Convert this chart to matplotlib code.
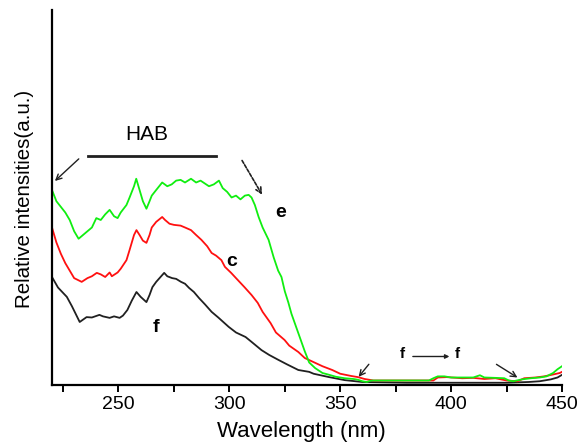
import matplotlib
matplotlib.use("Agg")
import matplotlib.pyplot as plt
from matplotlib.ticker import MultipleLocator

plt.rcParams['font.family'] = ['Liberation Sans', 'DejaVu Sans']

# curve e (green)
wl_e = [220, 222, 224, 226, 228, 230, 232, 234, 236, 238, 240, 242, 244, 246, 248, 249.6, 251, 253.6,
        255, 257, 258, 259.5, 261, 262.6, 264, 265, 267, 269.7, 272, 274, 276, 278, 280, 282.7, 285,
        287, 290.8, 293, 295.3, 297, 299, 301, 303, 305, 307, 308.7, 310, 311.5, 313.2, 315, 317.7,
        320, 322, 323.5, 325, 326.6, 328, 331, 334, 336, 338.7, 342, 344.5, 348, 352, 356, 358, 360,
        362, 364, 366, 370, 380, 390, 392, 394, 397, 400, 405, 410, 413, 415, 420, 424, 426, 428,
        432, 436, 440, 443, 446, 448, 450]
val_e = [52, 49, 47.5, 46, 44, 41, 39, 40, 41, 42, 44.5, 44, 45.5, 46.7, 45, 44.5, 46, 48,
         50, 53, 55, 52, 49, 47, 49, 50.5, 52, 54, 53, 53.5, 54.5, 54.7, 54, 55, 54,
         54.5, 53, 53.5, 54.5, 52.5, 51.5, 50, 50.5, 49.5, 50.5, 50.7, 50, 48, 44.8, 42, 38.7,
         34, 30.5, 28.8, 25, 22, 19, 14, 9, 6, 4.5, 3.2, 2.8, 2.2, 1.8, 1.6, 1.4, 1.0,
         0.8, 1.2, 1.2, 1.2, 1.2, 1.2, 1.8, 2.3, 2.3, 2.0, 2.0, 2.0, 2.6, 2.0, 1.9, 1.8, 1.2, 1.0,
         1.5, 1.8, 2.0, 2.3, 3.2, 4.2, 5.0]

# curve c (red)
wl_c = [220, 222, 224, 226, 228, 230, 233.4, 236, 238, 240.2, 242, 244, 246, 247, 249.6, 251, 253.6,
        255, 257, 258.1, 259.5, 261, 262.6, 264, 265, 267, 269.7, 271, 273, 275, 278, 280, 282.7,
        285, 287.4, 290, 292, 294, 296.4, 298, 300.8, 303, 306.8, 310, 312.8, 315, 318.6, 321,
        324.9, 327, 331.1, 334, 338, 342, 346.4, 350, 355, 358, 361, 365, 380, 392, 394, 398,
        405, 410, 415, 420, 425, 430, 433, 438, 442, 446, 449, 450]
val_c = [42, 38, 35, 32.5, 30.5, 28.5, 27.5, 28.5, 29, 29.9, 29.5, 28.8, 30, 29, 30, 31, 33.3,
         36, 40, 41.3, 40, 38.5, 37.9, 40, 42, 43.5, 44.8, 44, 43, 42.7, 42.5, 42, 41.3,
         40, 38.7, 37, 35.2, 34.5, 33.3, 31.5, 29.9, 28.5, 26.1, 24, 21.9, 19.5, 16.5, 14,
         12, 10.5, 8.8, 7.2, 6.1, 5, 4, 3, 2.4, 2.1, 1.6, 1.2, 1.2, 1.2, 2.0, 2.1,
         1.8, 1.9, 1.6, 1.8, 1.2, 1.0, 1.8, 2.0, 2.3, 2.8, 3.2, 3.5]

# curve f (black)
wl_f = [220, 222.7, 226.7, 229, 232.5, 235.6, 238, 241.4, 243, 246, 248, 250.5, 252, 254, 256, 258.1,
        260, 262.6, 264, 265.3, 267, 270.6, 272, 274.2, 276, 278.2, 280, 281.8, 284, 286.3, 289,
        292, 295, 299.7, 303, 307.3, 310, 314.5, 318, 322.1, 326, 331.1, 336, 338, 345, 352, 360,
        380, 400, 425, 435, 440, 445, 448, 450]
val_f = [28.8, 26, 23.5, 21, 16.8, 18.1, 18, 18.7, 18.3, 17.9, 18.3, 17.9, 18.5, 20, 22.5, 24.8,
         23.5, 22.1, 24, 26.1, 27.5, 29.9, 29, 28.5, 28.3, 27.5, 27, 25.9, 24.8, 23.2, 21.5,
         19.5, 18, 15.5, 14, 12.8, 11.5, 9.3, 8, 6.7, 5.5, 4, 3.5, 3, 2.1, 1.3, 0.8,
         0.6, 0.6, 0.6, 0.8, 1.0, 1.5, 2.0, 2.7]

fig = plt.figure(figsize=(5.88, 4.44), dpi=100)
ax = fig.add_axes([0.0884, 0.1329, 0.8673, 0.8446])

ax.plot(wl_f, val_f, color='#202020', lw=1.3)
ax.plot(wl_c, val_c, color='#ff1010', lw=1.3)
ax.plot(wl_e, val_e, color='#10ee10', lw=1.3)

ax.set_xlim(220, 450)
ax.set_ylim(0, 100)
ax.spines['top'].set_visible(False)
ax.spines['right'].set_visible(False)
ax.spines['left'].set_linewidth(1.6)
ax.spines['bottom'].set_linewidth(1.6)
ax.xaxis.set_major_locator(MultipleLocator(50))
ax.xaxis.set_minor_locator(MultipleLocator(25))
ax.tick_params(axis='x', which='both', direction='out', length=5, width=1.4, labelsize=14, pad=3)
ax.set_yticks([])

ax.set_xlabel('Wavelength (nm)', fontsize=16)
ax.xaxis.set_label_coords(0.49, -0.095)
ax.set_ylabel('Relative intensities(a.u.)', fontsize=14.8)
ax.yaxis.set_label_coords(-0.035, 0.495)

# annotations
ax.text(262.6, 66.7, 'HAB', fontsize=15, ha='center', va='center')
ax.plot([236.1, 293.9], [61.1, 61.1], color='#202020', lw=2)
ax.annotate('', xy=(220.4, 53.9), xytext=(233, 60.8),
            arrowprops=dict(arrowstyle='->', color='#202020', lw=1))
ax.annotate('', xy=(315.4, 50.1), xytext=(305.1, 60.5),
            arrowprops=dict(arrowstyle='->', color='#202020', lw=1.2, linestyle=(0, (2, 1))))
ax.text(323, 46.1, 'e', fontsize=14, fontweight='bold', ha='center', va='center')
ax.text(301, 32.8, 'c', fontsize=14, fontweight='bold', ha='center', va='center')
ax.text(267, 15.2, 'f', fontsize=14, fontweight='bold', ha='center', va='center')

ax.text(378.2, 8.3, 'f', fontsize=11, fontweight='bold', ha='center', va='center')
ax.text(402.8, 8.3, 'f', fontsize=11, fontweight='bold', ha='center', va='center')
ax.annotate('', xy=(400.5, 7.6), xytext=(381.5, 7.6),
            arrowprops=dict(arrowstyle='-|>', color='#202020', lw=1, mutation_scale=6))
ax.annotate('', xy=(357.5, 1.6), xytext=(363.7, 6.1),
            arrowprops=dict(arrowstyle='->', color='#202020', lw=1))
ax.annotate('', xy=(431, 1.6), xytext=(419.4, 5.9),
            arrowprops=dict(arrowstyle='->', color='#202020', lw=1))

fig.savefig('out.png', dpi=100)
